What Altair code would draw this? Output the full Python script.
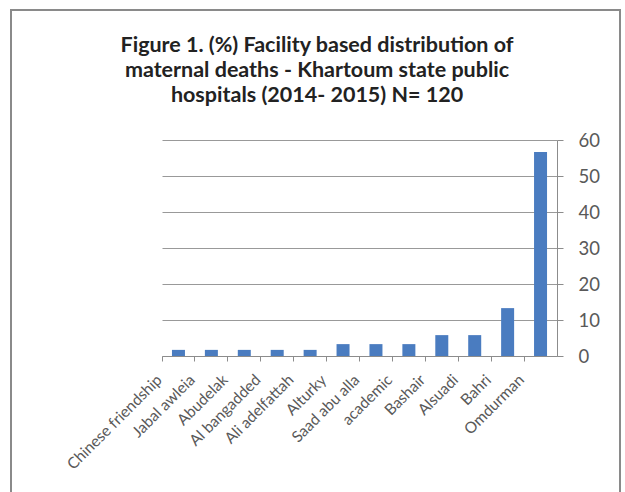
import altair as alt
import pandas as pd

hospitals = ["Chinese friendship", "Jabal awleia", "Abudelak", "Al bangadded",
             "Ali adelfattah", "Alturky", "Saad abu alla", "academic",
             "Bashair", "Alsuadi", "Bahri", "Omdurman"]
percent = [1.7, 1.7, 1.7, 1.7, 1.7, 3.3, 3.3, 3.3, 5.8, 5.8, 13.3, 56.7]
y_ticks = [0, 10, 20, 30, 40, 50, 60]
title_lines = ["Figure 1. (%) Facility based distribution of",
               "maternal deaths - Khartoum state public",
               "hospitals  (2014- 2015) N= 120"]

df = pd.DataFrame({"hospital": hospitals, "percent": percent})
one = pd.DataFrame({"a": [0]})

W, H = 395, 216
FONT = "Lato"

bars = alt.Chart(df).mark_bar(color="#4a7cc0", size=13).encode(
    x=alt.X("hospital:N", sort=hospitals, title=None,
            scale=alt.Scale(paddingInner=0, paddingOuter=0),
            axis=alt.Axis(labelAngle=-45, labelFontSize=15.5, labelColor="#595959",
                          labelFont=FONT, domainColor="#8c8c8c", tickColor="#8c8c8c",
                          tickSize=5, bandPosition=0, labelPadding=11,
                          labelOffset=-24, grid=False)),
    y=alt.Y("percent:Q", title=None,
            scale=alt.Scale(domain=[0, 60], nice=False),
            axis=alt.Axis(orient="right", values=y_ticks, labelFontSize=18.5,
                          labelColor="#595959", labelFont=FONT,
                          domainColor="#8c8c8c", tickColor="#8c8c8c", tickSize=6,
                          labelPadding=15, gridColor="#999999", grid=True)),
)

border = alt.Chart(one).mark_rect(fill="white", fillOpacity=0, stroke="#8a8a8a",
                                  strokeWidth=2).encode(
    x=alt.value(-151), x2=alt.value(458), y=alt.value(-130), y2=alt.value(380))

title = alt.Chart(one).mark_text(
    text=title_lines, font=FONT, fontSize=21.5, fontWeight="bold", color="#222222",
    align="center", baseline="middle", lineHeight=25
).encode(x=alt.value(155), y=alt.value(-94.5))

chart = alt.layer(border, bars, title).properties(
    width=W, height=H,
    autosize=alt.AutoSizeParams(type="none"),
    padding={"left": 162, "top": 140, "right": 625 - 162 - W, "bottom": 492 - 140 - H},
    background="white",
).configure_view(stroke=None)

chart.save("out.html", embed_options={"renderer": "svg", "actions": False})
